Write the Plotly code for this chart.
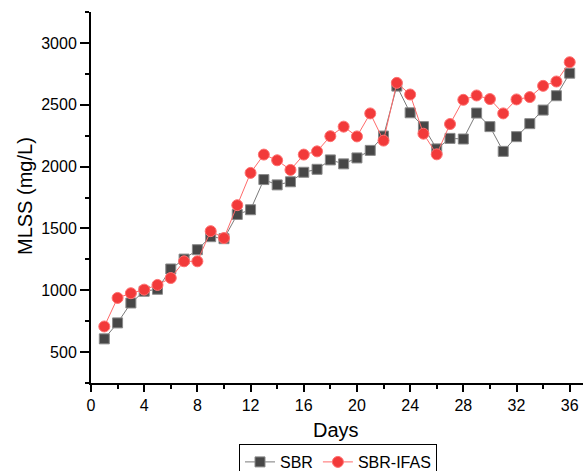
import plotly.graph_objects as go

days = list(range(1, 37))
sbr = [607, 736, 897, 992, 1008, 1172, 1252, 1328, 1433, 1417, 1613, 1651,
       1895, 1852, 1877, 1954, 1978, 2054, 2022, 2070, 2131, 2247, 2651, 2435,
       2323, 2143, 2228, 2223, 2433, 2323, 2123, 2242, 2347, 2457, 2573, 2755]
sbr_ifas = [707, 938, 976, 1005, 1043, 1099, 1234, 1234, 1478, 1422, 1688, 1949,
            2097, 2051, 1973, 2097, 2123, 2246, 2323, 2244, 2430, 2210, 2677, 2583,
            2266, 2099, 2344, 2540, 2575, 2546, 2430, 2543, 2562, 2653, 2688, 2844]
x_ticks = [0, 4, 8, 12, 16, 20, 24, 28, 32, 36]
y_ticks = [500, 1000, 1500, 2000, 2500, 3000]

W, H = 587, 471
ML, MR, MT, MB = 91, 4, 12, 88
PW, PH = W - ML - MR, H - MT - MB

fig = go.Figure()
fig.add_trace(go.Scatter(
    x=days, y=sbr, name="SBR", mode="lines+markers",
    line=dict(color="#7a7a7a", width=1),
    marker=dict(symbol="square", size=10, color="#474747",
                line=dict(color="#8a8a8a", width=1)),
))
fig.add_trace(go.Scatter(
    x=days, y=sbr_ifas, name="SBR-IFAS", mode="lines+markers",
    line=dict(color="#ff6a6a", width=1),
    marker=dict(symbol="circle", size=11, color="#f23a3a",
                line=dict(color="#ff7070", width=1)),
))

axis_font = dict(family="Liberation Sans, Arial, sans-serif", size=16, color="black")
fig.update_layout(
    width=W, height=H,
    margin=dict(l=ML, r=MR, t=MT, b=MB),
    paper_bgcolor="white", plot_bgcolor="white",
    font=axis_font,
    showlegend=True,
    legend=dict(orientation="h", x=(338) / W, xref="container", xanchor="center",
                y=(H - 444) / H, yref="container", yanchor="top",
                bordercolor="black", borderwidth=1, font=dict(size=16),
                itemwidth=30, tracegroupgap=0),
    xaxis=dict(
        range=[0, 37], tickvals=x_ticks, ticktext=[str(v) for v in x_ticks],
        automargin=False,
        showline=True, linecolor="black", linewidth=2, showgrid=False, zeroline=False,
        ticks="outside", ticklen=7, tickwidth=2, tickcolor="black",
        minor=dict(dtick=2, tick0=0, ticks="outside", ticklen=4, tickwidth=2, tickcolor="black"),
        tickfont=dict(size=16),
    ),
    yaxis=dict(
        range=[250, 3250], tickvals=y_ticks, ticktext=[str(v) for v in y_ticks],
        automargin=False,
        showline=True, linecolor="black", linewidth=2, showgrid=False, zeroline=False,
        ticks="outside", ticklen=9, tickwidth=2, tickcolor="black",
        minor=dict(dtick=250, tick0=0, ticks="outside", ticklen=4, tickwidth=2, tickcolor="black"),
        tickfont=dict(size=16),
    ),
    annotations=[
        dict(text="Days", xref="paper", yref="paper",
             x=(336 - ML) / PW, y=(MT + PH - 430) / PH,
             xanchor="center", yanchor="middle", showarrow=False,
             font=dict(size=20)),
        dict(text="MLSS (mg/L)", xref="paper", yref="paper",
             x=(25 - ML) / PW, y=(MT + PH - 196) / PH, textangle=-90,
             xanchor="center", yanchor="middle", showarrow=False,
             font=dict(size=20)),
    ],
)

fig.write_html("out.html", config={"displayModeBar": False},
               post_script="document.body.style.margin='0px';")
